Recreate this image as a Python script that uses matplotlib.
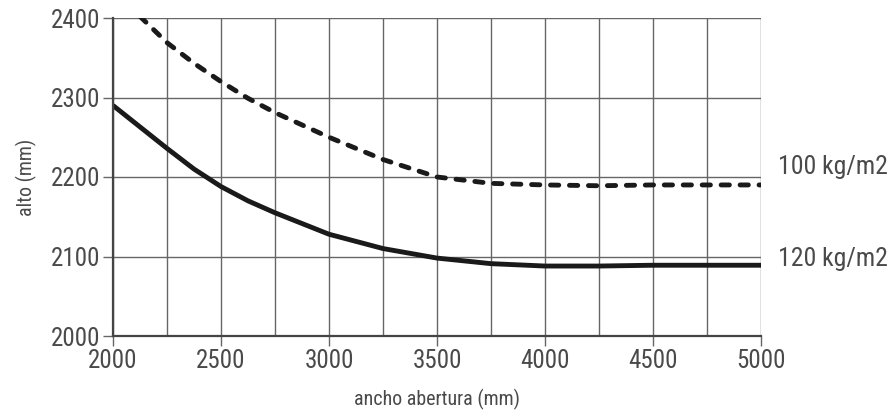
import matplotlib
matplotlib.use('Agg')
import matplotlib.pyplot as plt

# values
ancho_100 = [2125, 2250, 2375, 2500, 2625, 2750, 3000, 3250, 3500, 3750, 4000, 4250, 4500, 4750, 5000]
alto_100 = [2402, 2369, 2343, 2320, 2299, 2281, 2250, 2222, 2200, 2192, 2190, 2189, 2190, 2190, 2190]

ancho_120 = [2000, 2125, 2250, 2375, 2500, 2625, 2750, 3000, 3250, 3500, 3750, 4000, 4250, 4500, 4750, 5000]
alto_120 = [2290, 2263, 2236, 2210, 2188, 2170, 2155, 2128, 2110, 2098, 2091, 2088, 2088, 2089, 2089, 2089]

series_labels = ['100 kg/m2', '120 kg/m2']
label_y = [2213, 2097]

plt.rcParams['font.family'] = ['Roboto Condensed', 'Roboto', 'DejaVu Sans']
txt = '#4a4a4a'
grid = '#666666'

fig = plt.figure(figsize=(8.88, 4.13), dpi=100)
ax = fig.add_axes([113 / 888, 1 - 336 / 413, 648 / 888, 318 / 413])

ax.plot(ancho_100, alto_100, color='#1a1a1a', lw=3.5, ls=(0, (1.7, 2.2)),
        dash_capstyle='round')
ax.plot(ancho_120, alto_120, color='#1a1a1a', lw=3.5, solid_capstyle='butt')

ax.set_xlim(2000, 5000)
ax.set_ylim(2000, 2400)
ax.set_xticks(range(2000, 5001, 500))
ax.set_xticks(range(2000, 5001, 250), minor=True)
ax.set_yticks(range(2000, 2401, 100))
ax.grid(True, which='both', color=grid, lw=1)
ax.set_axisbelow(True)

for s in ['top', 'right']:
    ax.spines[s].set_visible(False)
for s in ['left', 'bottom']:
    ax.spines[s].set_color('#444444')
    ax.spines[s].set_linewidth(1.6)

ax.tick_params(axis='both', which='major', labelsize=18, colors=grid, labelcolor=txt,
               length=7, width=1, pad=2)
ax.tick_params(axis='x', which='minor', length=0)

for lab, y in zip(series_labels, label_y):
    ax.text(5080, y, lab, fontsize=18.5, color=txt, va='center', ha='left', clip_on=False)

ax.set_xlabel('ancho abertura (mm)', fontsize=14.4, color=txt, labelpad=12)
ax.set_ylabel('alto (mm)', fontsize=14.4, color=txt, labelpad=10)

fig.savefig('out.png', dpi=100)
